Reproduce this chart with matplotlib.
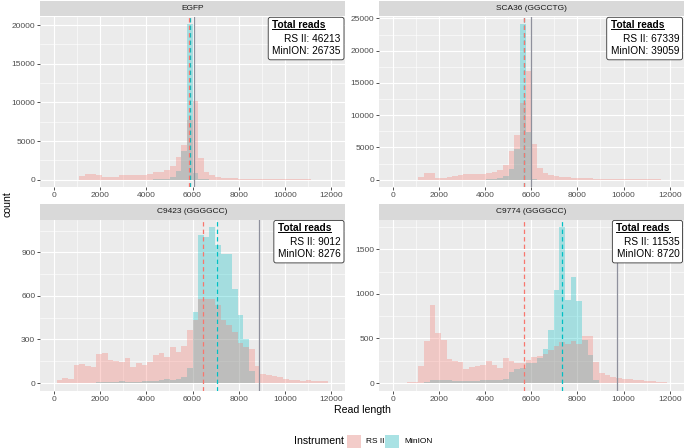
import numpy as np
import matplotlib
matplotlib.use("Agg")
import matplotlib.pyplot as plt
from matplotlib.patches import FancyBboxPatch, Rectangle
from matplotlib.lines import Line2D
from matplotlib.transforms import IdentityTransform
from matplotlib.ticker import MultipleLocator

plt.rcParams['font.family'] = ['Liberation Sans', 'DejaVu Sans']

W, H = 685, 448

# histogram: 50 bins over 0..12000, the two edge bins fall outside the limits
bin_centres = np.linspace(0, 12000, 50)[1:-1]
bin_width = 12000 / 49

panels = ["EGFP", "SCA36 (GGCCTG)", "C9423 (GGGGCC)", "C9774 (GGGGCC)"]
rs2_total = [46213, 67339, 9012, 11535]
minion_total = [26735, 39059, 8276, 8720]

egfp_rs2 = [0, 0, 0, 0, 470, 690, 770, 600, 390, 390, 400, 560,
            600, 600, 600, 640, 730, 940, 1030, 1290, 1800, 2900, 4500, 7700,
            10170, 2830, 1030, 560, 340, 260, 210, 170, 140, 120, 100, 90,
            80, 70, 60, 55, 50, 45, 40, 35, 30, 25, 20, 20]
egfp_minion = [0, 0, 0, 0, 0, 0, 0, 0, 0, 0, 0, 0,
               0, 5, 10, 15, 20, 40, 60, 150, 340, 1070, 3700, 20100,
               860, 80, 30, 10, 5, 0, 0, 0, 0, 0, 0, 0,
               0, 0, 0, 0, 0, 0, 0, 0, 0, 0, 0, 0]

sca36_rs2 = [0, 0, 0, 0, 400, 1070, 970, 300, 250, 350, 560, 710,
             820, 870, 870, 920, 1020, 1170, 1500, 2360, 4400, 6980, 11860, 16840,
             5540, 1850, 975, 720, 560, 460, 410, 330, 280, 240, 200, 170,
             150, 130, 110, 100, 90, 80, 70, 60, 50, 45, 40, 35]
sca36_minion = [0, 0, 0, 0, 0, 0, 0, 0, 0, 0, 0, 0,
                0, 10, 20, 30, 50, 80, 200, 560, 1590, 4770, 24100, 7400,
                60, 20, 10, 5, 0, 0, 0, 0, 0, 0, 0, 0,
                0, 0, 0, 0, 0, 0, 0, 0, 0, 0, 0, 0]

c9423_rs2 = [20, 34, 25, 121, 128, 119, 108, 197, 208, 160, 153, 144,
             169, 112, 137, 121, 147, 195, 204, 176, 250, 215, 252, 362,
             434, 576, 576, 576, 537, 434, 400, 350, 275, 245, 235, 120,
             62, 55, 50, 40, 25, 18, 22, 15, 20, 15, 14, 14]
c9423_minion = [0, 0, 0, 0, 0, 0, 0, 5, 8, 8, 10, 12,
                10, 8, 10, 14, 12, 15, 20, 25, 22, 30, 40, 100,
                487, 1019, 1003, 1072, 950, 886, 886, 650, 470, 300, 80, 0,
                0, 0, 0, 0, 0, 0, 0, 0, 0, 0, 0, 0]

c9774_rs2 = [0, 0, 15, 15, 190, 475, 875, 565, 480, 265, 250, 240,
             153, 180, 190, 205, 243, 200, 172, 277, 247, 221, 225, 260,
             290, 300, 330, 370, 410, 460, 440, 470, 440, 527, 530, 240,
             108, 90, 71, 60, 50, 40, 35, 30, 25, 20, 15, 12]
c9774_minion = [0, 0, 0, 0, 5, 15, 30, 38, 35, 30, 28, 25,
                25, 25, 28, 30, 30, 32, 35, 40, 127, 153, 165, 220,
                230, 280, 380, 595, 1040, 1747, 930, 1186, 920, 480, 314, 34,
                0, 0, 0, 0, 0, 0, 0, 0, 0, 0, 0, 0]

rs2_counts = [egfp_rs2, sca36_rs2, c9423_rs2, c9774_rs2]
minion_counts = [egfp_minion, sca36_minion, c9423_minion, c9774_minion]

rs2_median = [5870, 5690, 6450, 5700]
minion_median = [5890, 5680, 7080, 7330]
expected_length = [6080, 5970, 8880, 9730]
y_step = [5000, 5000, 300, 500]

pink = "#F8766D"
teal = "#00BFC4"

# panel boxes in pixels (left, top, right, bottom), top-left origin
panel_px = [(40, 16.5, 345, 187.5), (379, 16.5, 683.5, 187.5),
            (40, 219.6, 345, 390.8), (379, 219.6, 683.5, 390.8)]
strip_h = 15.5


def px_rect(x0, y0, x1, y1):
    return [x0 / W, 1 - y1 / H, (x1 - x0) / W, (y1 - y0) / H]


fig = plt.figure(figsize=(W / 100, H / 100), dpi=100)
axes = []
for i, (x0, y0, x1, y1) in enumerate(panel_px):
    ax = fig.add_axes(px_rect(x0, y0, x1, y1))
    ax.set_facecolor("#EBEBEB")
    ax.bar(bin_centres, minion_counts[i], width=bin_width, color=teal, alpha=0.3, linewidth=0)
    ax.bar(bin_centres, rs2_counts[i], width=bin_width, color=pink, alpha=0.3, linewidth=0)
    ax.axvline(expected_length[i], color="#8E909C", lw=0.9)
    ax.axvline(minion_median[i], color=teal, lw=0.9, ls=(0, (3.5, 2.5)))
    ax.axvline(rs2_median[i], color=pink, lw=0.9, ls=(0, (3.5, 2.5)))
    top = max(max(rs2_counts[i]), max(minion_counts[i]))
    ax.set_ylim(-0.05 * top, 1.05 * top)
    ax.set_xlim(-600, 12600)
    ax.xaxis.set_major_locator(MultipleLocator(2000))
    ax.xaxis.set_minor_locator(MultipleLocator(1000))
    ax.yaxis.set_major_locator(MultipleLocator(y_step[i]))
    ax.yaxis.set_minor_locator(MultipleLocator(y_step[i] / 2))
    ax.set_axisbelow(True)
    ax.grid(which="major", color="white", lw=0.8)
    ax.grid(which="minor", color="white", lw=0.4)
    for s in ax.spines.values():
        s.set_visible(False)
    ax.tick_params(which="major", length=1.9, width=0.6, color="#333333", pad=1.5,
                   labelsize=6.05, labelcolor="#4D4D4D")
    ax.tick_params(which="minor", length=0)
    axes.append(ax)

    sax = fig.add_axes(px_rect(x0, y0 - strip_h, x1, y0))
    sax.set_facecolor("#D9D9D9")
    sax.set_xticks([])
    sax.set_yticks([])
    for s in sax.spines.values():
        s.set_visible(False)
    sax.text(0.5, 0.5, panels[i], ha="center", va="center", fontsize=6.05, color="#1A1A1A",
             transform=sax.transAxes)

fig.text(8 / W, 1 - 204 / H, "count", rotation=90, ha="center", va="center", fontsize=7.56)
fig.text(362 / W, 1 - 410 / H, "Read length", ha="center", va="center", fontsize=7.56)

# legend
fig.text(294 / W, 1 - 441 / H, "Instrument", ha="left", va="center", fontsize=7.56)
for x0, col, lab in [(347, pink, "RS II"), (385, teal, "MinION")]:
    fig.add_artist(Rectangle((x0 / W, 1 - 449 / H), 14 / W, 14 / H, transform=fig.transFigure,
                             facecolor="#F2F2F2", edgecolor="none"))
    fig.add_artist(Rectangle((x0 / W, 1 - 449 / H), 14 / W, 14 / H, transform=fig.transFigure,
                             facecolor=col, alpha=0.3, edgecolor="none"))
    fig.text((x0 + 19) / W, 1 - 441 / H, lab, ha="left", va="center", fontsize=6.05)

# total reads labels, anchored at the top right corner of each panel
renderer = fig.canvas.get_renderer()
label_fs = 7.3
for i, ax in enumerate(axes):
    bb = ax.get_window_extent(renderer)
    right = bb.x1 - 1.0
    top = bb.y1 - 0.8
    lines = [f"RS II: {rs2_total[i]}", f"MinION: {minion_total[i]}"]
    texts = []
    for j, s in enumerate(lines):
        t = fig.text((right - 3.2) / W, (top - 24.2 - 12.7 * j) / H, s, ha="right",
                     va="baseline", fontsize=label_fs, zorder=5)
        texts.append(t)
    width = max(t.get_window_extent(renderer).width for t in texts)
    left = right - 3.2 - width - 4.2
    title = fig.text((left + 3.8) / W, (top - 10.2) / H, "Total reads", ha="left",
                     va="baseline", fontsize=label_fs, fontweight="bold", zorder=5)
    tb = title.get_window_extent(renderer)
    fig.add_artist(Line2D([tb.x0, tb.x1], [top - 11.6, top - 11.6], transform=IdentityTransform(),
                          color="black", lw=0.7, zorder=5))
    box = FancyBboxPatch((left, top - 42.5), right - left, 42.5,
                         boxstyle="round,pad=0,rounding_size=2.2",
                         transform=IdentityTransform(), facecolor="white",
                         edgecolor="#333333", lw=0.6, zorder=4)
    fig.add_artist(box)

fig.savefig("out.png", dpi=100)
